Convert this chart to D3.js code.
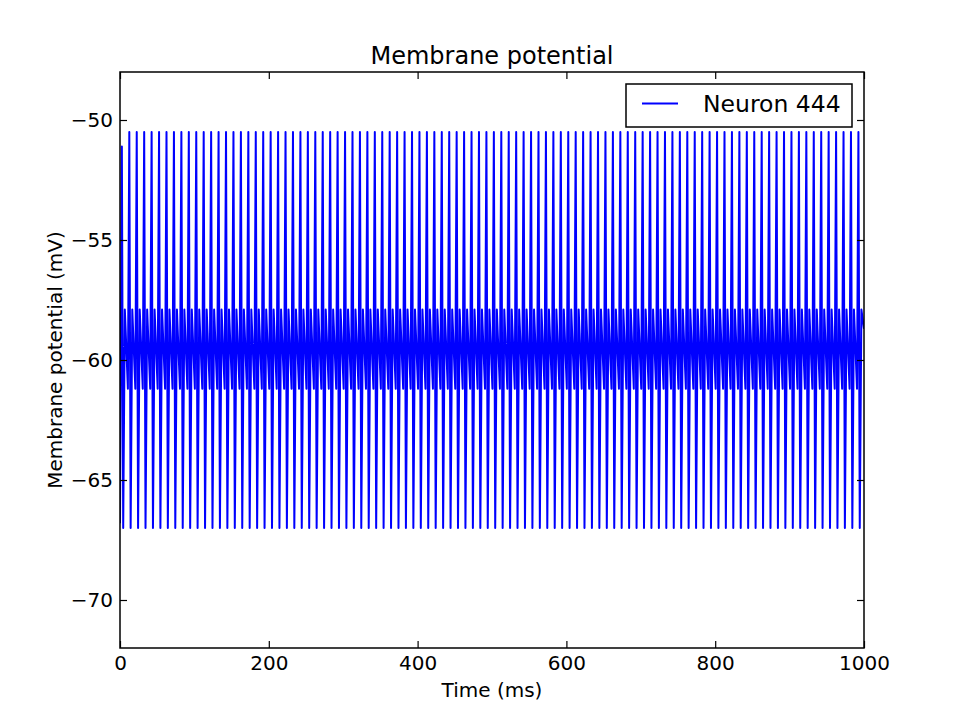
<!DOCTYPE html>
<html>
<head>
<meta charset="utf-8">
<script src="https://cdn.jsdelivr.net/npm/d3@7"></script>
<style>
  html, body { margin: 0; padding: 0; background: #fff; }
  svg text { font-family: "DejaVu Sans", sans-serif; fill: #000; }
</style>
</head>
<body>
<svg id="chart" width="960" height="720"></svg>
<script>
// ---- data ----
const title = "Membrane potential";
const xLabel = "Time (ms)";
const yLabel = "Membrane potential (mV)";
const legendLabel = "Neuron 444";
const xTicks = [0, 200, 400, 600, 800, 1000];
const yTicks = [-70, -65, -60, -55, -50];
const xDomain = [0, 1000];
const yDomain = [-72, -48];

// spike times (ms), one every ~10 ms
const spikeTimes = [
  2.5, 12.5, 22.5, 32.5, 42.5, 52.5, 62.5, 72.5, 82.5, 92.5,
  102.5, 112.5, 122.5, 132.5, 142.5, 152.5, 162.5, 172.5, 182.5, 192.5,
  202.5, 212.5, 222.5, 232.5, 242.5, 252.5, 262.5, 272.5, 282.5, 292.5,
  302.5, 312.5, 322.5, 332.5, 342.5, 352.5, 362.5, 372.5, 382.5, 392.5,
  402.5, 412.5, 422.5, 432.5, 442.5, 452.5, 462.5, 472.5, 482.5, 492.5,
  502.5, 512.5, 522.5, 532.5, 542.5, 552.5, 562.5, 572.5, 582.5, 592.5,
  602.5, 612.5, 622.5, 632.5, 642.5, 652.5, 662.5, 672.5, 682.5, 692.5,
  702.5, 712.5, 722.5, 732.5, 742.5, 752.5, 762.5, 772.5, 782.5, 792.5,
  802.5, 812.5, 822.5, 832.5, 842.5, 852.5, 862.5, 872.5, 882.5, 892.5,
  902.5, 912.5, 922.5, 932.5, 942.5, 952.5, 962.5, 972.5, 982.5, 992.5
];
// peak of each spike (first one is lower)
const firstSpikePeak = -51.1;
const spikePeak = -50.5;
// shape after each spike: time offsets (ms) and potentials (mV)
const afterSpikeOffsets = [1.8, 4.0, 8.1];
const afterSpikeValues = [-67.0, -57.9, -61.2];
// start and end samples of the trace
const startPoint = [0, -66.8];
const endPoint = [1000, -58.7];

// ---- build trace table ----
const trace = [startPoint];
spikeTimes.forEach((t, i) => {
  trace.push([t, i === 0 ? firstSpikePeak : spikePeak]);
  afterSpikeOffsets.forEach((o, j) => {
    if (t + o <= xDomain[1]) trace.push([t + o, afterSpikeValues[j]]);
  });
});
trace.push(endPoint);

// ---- layout ----
const svg = d3.select("#chart");
const L = 120, R = 864, T = 72, B = 648;
const x = d3.scaleLinear().domain(xDomain).range([L, R]);
const y = d3.scaleLinear().domain(yDomain).range([B, T]);
const tickLen = 7;
const fmt = d => String(d).replace("-", "\u2212");

svg.append("defs").append("clipPath").attr("id", "clip")
  .append("rect").attr("x", L).attr("y", T).attr("width", R - L).attr("height", B - T);

// trace
svg.append("path")
  .datum(trace)
  .attr("clip-path", "url(#clip)")
  .attr("fill", "none")
  .attr("stroke", "#0000ff")
  .attr("stroke-width", 2)
  .attr("stroke-linejoin", "round")
  .attr("d", d3.line().x(d => x(d[0])).y(d => y(d[1])));

// axes (inward ticks on all four sides)
const axStyle = g => {
  g.attr("font-size", null).attr("font-family", null);
  g.select(".domain").remove();
  g.selectAll(".tick line").attr("stroke", "#000").attr("stroke-width", 1.2);
  g.selectAll(".tick text").style("font-size", "20px").style("font-family", "'DejaVu Sans'").attr("fill", "#000");
};
svg.append("g").attr("transform", `translate(0,${B})`)
  .call(d3.axisBottom(x).tickValues(xTicks).tickSize(-tickLen).tickPadding(8).tickFormat(fmt))
  .call(axStyle);
svg.append("g").attr("transform", `translate(0,${T})`)
  .call(d3.axisTop(x).tickValues(xTicks).tickSize(-tickLen).tickFormat(""))
  .call(axStyle);
svg.append("g").attr("transform", `translate(${L},0)`)
  .call(d3.axisLeft(y).tickValues(yTicks).tickSize(-tickLen).tickPadding(7).tickFormat(fmt))
  .call(axStyle);
svg.append("g").attr("transform", `translate(${R},0)`)
  .call(d3.axisRight(y).tickValues(yTicks).tickSize(-tickLen).tickFormat(""))
  .call(axStyle);

// frame
svg.append("rect").attr("x", L).attr("y", T).attr("width", R - L).attr("height", B - T)
  .attr("fill", "none").attr("stroke", "#000").attr("stroke-width", 1.5);

// title and labels
svg.append("text").attr("x", (L + R) / 2).attr("y", 64).attr("text-anchor", "middle")
  .style("font-size", "24px").text(title);
svg.append("text").attr("x", (L + R) / 2).attr("y", 697).attr("text-anchor", "middle")
  .style("font-size", "20px").text(xLabel);
svg.append("text").attr("transform", `translate(62,${(T + B) / 2}) rotate(-90)`)
  .attr("text-anchor", "middle").style("font-size", "20px").text(yLabel);

// legend
const lg = svg.append("g");
lg.append("rect").attr("x", 626).attr("y", 84).attr("width", 226).attr("height", 43)
  .attr("fill", "#fff").attr("stroke", "#000").attr("stroke-width", 1.5);
lg.append("line").attr("x1", 642).attr("x2", 678).attr("y1", 103.5).attr("y2", 103.5)
  .attr("stroke", "#0000ff").attr("stroke-width", 2);
lg.append("text").attr("x", 703).attr("y", 112).style("font-size", "23.5px").text(legendLabel);
</script>
</body>
</html>
